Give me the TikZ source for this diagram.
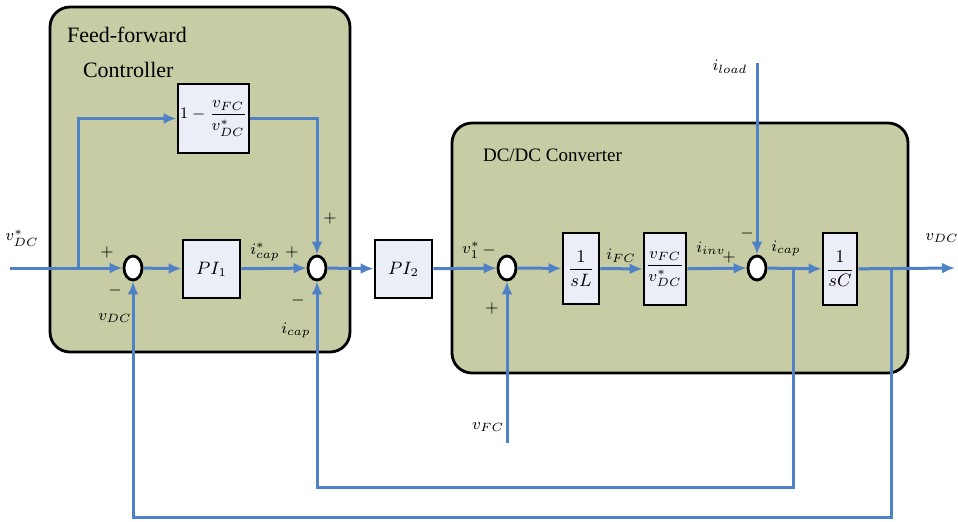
\documentclass[tikz,border=0pt]{standalone}
\usepackage{amsmath}
\usepackage{fontspec}
\setmainfont{Liberation Serif}
\usetikzlibrary{arrows.meta,shapes.geometric}

\definecolor{sigblue}{RGB}{79,129,199}
\definecolor{boxgreen}{RGB}{200,204,164}
\definecolor{blockfill}{RGB}{236,238,247}

\tikzset{
  blk/.style={draw=black, line width=1.4pt, fill=blockfill, inner sep=1pt, font=\small},
  sumpt/.style={ellipse, draw=black, line width=1.4pt, fill=white, minimum width=9pt, minimum height=12pt, inner sep=0pt},
  sig/.style={draw=sigblue, line width=1.5pt},
  sigarr/.style={sig, -{Latex[length=6.5pt,width=5.5pt]}},
  lbl/.style={font=\footnotesize, inner sep=0pt},
  group/.style={draw=black, line width=1.4pt, fill=boxgreen, rounded corners=10pt},
}

\begin{document}
\begin{tikzpicture}[x=0.5pt,y=-0.5pt]
\useasboundingbox (0,0) rectangle (958,521);

% controller and converter boxes
\draw[group] (50,7) rectangle (350,352);
\draw[group] (452,123) rectangle (908,373);
\node[anchor=west, font=\fontsize{11}{13}\selectfont] (fftitle) at (60,35) {Feed-forward};
\node[anchor=west, font=\fontsize{11}{13}\selectfont] (cttitle) at (76,70) {Controller};
\node[anchor=west, font=\fontsize{9.5}{11}\selectfont] (dctitle) at (476,155) {DC/DC Converter};

% blocks
\node[sumpt] (s1) at (133,268) {};
\node[blk, minimum width=28.5pt, minimum height=29pt] (pi1) at (211.5,269) {$PI_1$};
\node[sumpt] (s2) at (317,268) {};
\node[blk, font=\footnotesize, minimum width=33.5pt, minimum height=34.5pt] (ff) at (213.5,118.5) {$1-\dfrac{v_{FC}}{\mathstrut v^*_{DC}}$};
\node[blk, minimum width=28.5pt, minimum height=29pt] (pi2) at (403.5,269) {$PI_2$};
\node[sumpt] (s3) at (507,268) {};
\node[blk, minimum width=18pt, minimum height=35.5pt] (invl) at (581,268.5) {$\dfrac{1}{sL}$};
\node[blk, font=\footnotesize, minimum width=18pt, minimum height=36pt] (ratio) at (665,269) {$\dfrac{v_{FC}}{\mathstrut v^*_{DC}}$};
\node[sumpt] (s4) at (757,268) {};
\node[blk, minimum width=17pt, minimum height=36pt] (invc) at (840,269) {$\dfrac{1}{sC}$};

% free ends and corners
\coordinate (in) at (10,268);
\coordinate (out) at (955,268);
\coordinate (br0) at (78,268);
\coordinate (brc) at (793,268);
\coordinate (brv) at (891,268);
\coordinate (lc1) at (793,487);
\coordinate (lc2) at (317,487);
\coordinate (lv1) at (891,517);
\coordinate (lv2) at (133,517);
\coordinate (vfc) at (507,443);
\coordinate (iload) at (757,63);

% signal lines
\draw[sigarr] (in) -- (s1);
\draw[sigarr] (br0) |- (ff);
\draw[sigarr] (ff) -| (s2);
\draw[sigarr] (s1) -- (pi1);
\draw[sigarr] (pi1) -- (s2);
\draw[sigarr] (s2) -- (pi2);
\draw[sigarr] (pi2) -- (s3);
\draw[sigarr] (s3) -- (invl);
\draw[sigarr] (invl) -- (ratio);
\draw[sigarr] (ratio) -- (s4);
\draw[sigarr] (s4) -- (invc);
\draw[sigarr] (invc) -- (out);
\draw[sigarr] (brc) -- (lc1) -- (lc2) -- (s2);
\draw[sigarr] (brv) -- (lv1) -- (lv2) -- (s1);
\draw[sigarr] (vfc) -- (s3);
\draw[sigarr] (iload) -- (s4);

% labels
\node[lbl] (lvin) at (22,238) {$v^*_{DC}$};
\node[lbl] (p1) at (107,252) {$+$};
\node[lbl] (m1) at (115,290) {$-$};
\node[lbl] (lvdc) at (115,318) {$v_{DC}$};
\node[lbl] (licr) at (265,252) {$i^*_{cap}$};
\node[lbl] (p2) at (292,252) {$+$};
\node[lbl] (p3) at (330,218) {$+$};
\node[lbl] (m2) at (298,300) {$-$};
\node[lbl] (lic1) at (296,330) {$i_{cap}$};
\node[lbl] (lv1r) at (471,250) {$v^*_1$};
\node[lbl] (m3) at (489,250) {$-$};
\node[lbl] (p4) at (492,308) {$+$};
\node[lbl] (lvfc) at (488,427) {$v_{FC}$};
\node[lbl] (lifc) at (621,256) {$i_{FC}$};
\node[lbl] (liinv) at (711,248) {$i_{inv}$};
\node[lbl] (p5) at (729,257) {$+$};
\node[lbl] (m4) at (747,233) {$-$};
\node[lbl] (liload) at (730,67) {$i_{load}$};
\node[lbl] (lic2) at (786,248) {$i_{cap}$};
\node[lbl] (lvout) at (942,238) {$v_{DC}$};
\end{tikzpicture}
\end{document}
